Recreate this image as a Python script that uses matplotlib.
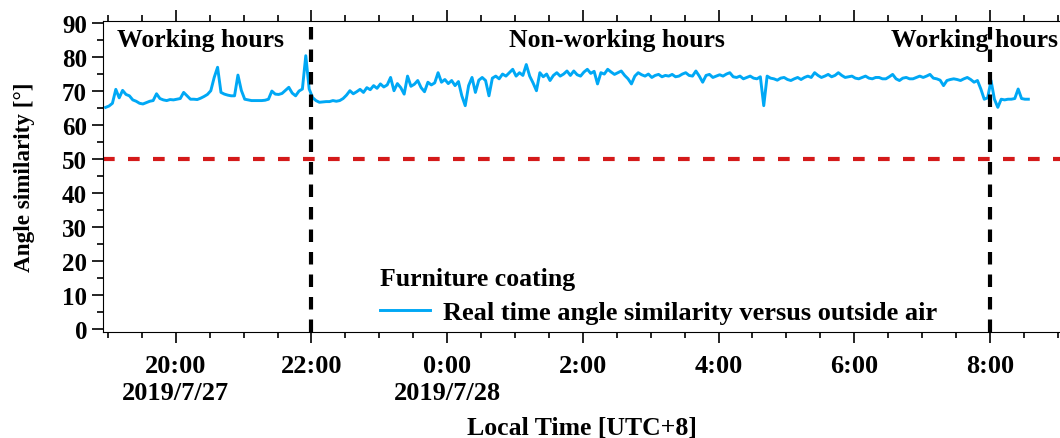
import matplotlib
matplotlib.use("Agg")
import matplotlib.pyplot as plt
import matplotlib.dates as mdates
import pandas as pd

# angle similarity, sampled every 3 min starting 2019/7/27 18:58
angle = [
    65.2, 65.6, 66.4, 70.5, 68.0, 70.2, 69.0, 68.6, 67.4, 67.0,
    66.4, 66.2, 66.6, 67.0, 67.2, 69.2, 67.8, 67.4, 67.2, 67.5,
    67.4, 67.6, 67.8, 69.6, 68.6, 67.6, 67.6, 67.5, 67.9, 68.4,
    69.0, 70.1, 74.0, 77.0, 69.6, 69.1, 68.8, 68.6, 68.6, 74.7,
    70.2, 67.6, 67.4, 67.2, 67.2, 67.2, 67.2, 67.3, 67.6, 70.0,
    69.1, 69.0, 69.3, 70.2, 71.1, 69.4, 68.6, 70.0, 70.6, 80.4,
    70.6, 68.1, 67.2, 66.7, 66.8, 66.9, 66.9, 67.2, 67.0, 67.2,
    67.8, 68.8, 70.1, 69.2, 69.8, 70.5, 69.6, 71.0, 70.4, 71.6,
    70.8, 72.1, 71.2, 71.8, 74.0, 70.1, 72.2, 71.0, 69.1, 74.4,
    71.4, 72.0, 73.1, 71.0, 69.8, 72.6, 71.8, 72.4, 75.4, 72.6,
    73.4, 72.2, 73.1, 71.6, 72.8, 68.6, 65.7, 71.6, 74.0, 69.6,
    73.2, 74.0, 73.1, 68.6, 73.8, 74.4, 73.6, 75.0, 74.4, 75.4,
    76.4, 74.4, 75.4, 74.6, 77.8, 74.4, 72.4, 70.1, 75.4, 74.2,
    75.0, 73.1, 74.6, 75.4, 74.4, 75.0, 75.9, 74.6, 75.9, 74.8,
    74.4, 75.6, 76.4, 75.2, 75.8, 72.1, 75.4, 75.0, 76.4, 75.6,
    74.9, 75.4, 75.9, 74.6, 73.6, 72.1, 74.4, 75.4, 74.8, 74.4,
    75.0, 74.0, 74.6, 74.9, 74.2, 74.6, 74.4, 74.9, 74.2, 74.4,
    75.0, 75.4, 74.6, 74.4, 75.9, 74.4, 72.6, 74.6, 74.9, 74.0,
    74.4, 74.8, 74.4, 75.0, 75.4, 74.2, 74.0, 74.4, 73.6, 74.0,
    74.4, 73.8, 73.6, 74.2, 65.7, 74.4, 73.8, 73.6, 73.2, 73.8,
    74.0, 73.4, 73.1, 73.6, 74.0, 73.4, 74.0, 74.4, 74.0, 75.4,
    74.6, 74.0, 74.4, 74.9, 74.2, 74.6, 75.4, 74.6, 74.0, 74.2,
    74.4, 73.8, 73.6, 74.0, 74.4, 73.8, 73.6, 74.0, 74.0, 73.6,
    73.6, 74.2, 74.9, 73.6, 73.1, 73.8, 74.0, 73.6, 73.6, 74.0,
    74.4, 74.0, 74.4, 74.9, 73.8, 73.6, 73.2, 71.6, 73.1, 73.4,
    73.6, 73.4, 73.1, 73.6, 74.0, 73.4, 72.6, 73.1, 70.6, 67.6,
    68.0, 73.1, 67.6, 65.2, 67.6, 67.4, 67.6, 67.6, 67.8, 70.6,
    67.8, 67.6, 67.6,
]
times = pd.date_range("2019-07-27 18:58", periods=len(angle), freq="3min")

threshold = 50
shift_changes = ["2019-07-27 22:00", "2019-07-28 08:00"]
tick_times = ["2019-07-27 20:00", "2019-07-27 22:00", "2019-07-28 00:00", "2019-07-28 02:00",
              "2019-07-28 04:00", "2019-07-28 06:00", "2019-07-28 08:00"]
tick_labels = ["20:00\n2019/7/27", "22:00", "0:00\n2019/7/28", "2:00", "4:00", "6:00", "8:00"]

plt.rcParams['font.family'] = ['Liberation Serif', 'DejaVu Serif']
plt.rcParams['font.weight'] = 'bold'
fs = 18.5

fig = plt.figure(figsize=(10.6, 4.39), dpi=100)
ax = fig.add_axes([103/1060, 1 - 332.7/439, 957/1060, 311/439])

ax.plot(times, angle, color='#00A8F5', lw=2.1,
        label='Real time angle similarity versus outside air')
ax.axhline(threshold, color='#D41A1A', lw=3, dashes=(2.8, 3.2))
for t in shift_changes:
    ax.axvline(pd.Timestamp(t), color='black', lw=3, dashes=(3, 2.4))

ax.set_xlim(pd.Timestamp("2019-07-27 18:55:40"), pd.Timestamp("2019-07-28 09:02"))
ax.set_ylim(-0.8, 90.7)
ax.set_yticks(range(0, 91, 10))
ax.yaxis.set_minor_locator(plt.MultipleLocator(5))
ax.set_xticks([pd.Timestamp(t) for t in tick_times])
ax.set_xticklabels(tick_labels)
ax.xaxis.set_minor_locator(mdates.MinuteLocator(byminute=[0, 30]))

ax.spines['right'].set_visible(False)
ax.tick_params(axis='both', which='both', direction='out', labelsize=fs, width=1.2)
ax.tick_params(axis='x', labelsize=19)
ax.tick_params(axis='y', labelsize=18)
ax.tick_params(axis='x', which='both', top=True)
ax.tick_params(which='major', length=8)
ax.tick_params(which='minor', length=4.5)
ax.tick_params(axis='x', pad=8)

ax.set_ylabel('Angle similarity [°]', fontsize=16.7, fontweight='bold')
ax.yaxis.set_label_coords(-68/957, 0.5)
ax.set_xlabel('Local Time [UTC+8]', fontsize=fs, fontweight='bold')
ax.xaxis.set_label_coords(0.5, -0.272)

ax.text(pd.Timestamp("2019-07-27 19:08"), 85.3, 'Working hours', fontsize=fs,
        fontweight='bold', va='center', ha='left')
ax.text(pd.Timestamp("2019-07-28 02:30"), 85.3, 'Non-working hours', fontsize=fs,
        fontweight='bold', va='center', ha='center')
ax.text(pd.Timestamp("2019-07-28 09:00"), 85.3, 'Working hours', fontsize=fs,
        fontweight='bold', va='center', ha='right')

leg = ax.legend(loc='upper left', bbox_to_anchor=(380/1060, 1 - 268/439),
                bbox_transform=fig.transFigure, frameon=False, fontsize=19,
                title='Furniture coating', title_fontproperties={'size': 18.5, 'weight': 'bold'},
                alignment='left', handlelength=1.9, handletextpad=0.5, borderpad=0,
                borderaxespad=0, labelspacing=0.4)

fig.savefig('out.png', dpi=100)
